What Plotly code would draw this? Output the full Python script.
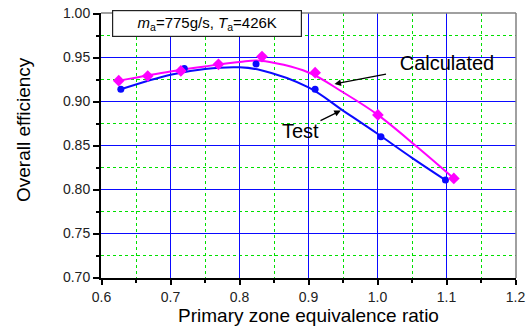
import plotly.graph_objects as go

# Measured points
test_x = [0.628, 0.720, 0.824, 0.9096, 1.005, 1.0985]
test_y = [0.914, 0.9376, 0.9426, 0.914, 0.860, 0.8107]
calc_x = [0.625, 0.667, 0.715, 0.7695, 0.8326, 0.9096, 1.0006, 1.1106]
calc_y = [0.9237, 0.929, 0.9347, 0.9422, 0.951, 0.9328, 0.8848, 0.8126]

# Fitted curves
test_fit_x = [0.628, 0.70, 0.75, 0.80, 0.83, 0.90, 0.95, 1.00, 1.05, 1.0985]
test_fit_y = [0.914, 0.9305, 0.937, 0.9388, 0.9358, 0.916, 0.8897, 0.8633, 0.836, 0.8107]
calc_fit_x = [0.625, 0.70, 0.75, 0.80, 0.83, 0.90, 0.95, 1.00, 1.058, 1.1106]
calc_fit_y = [0.9237, 0.9342, 0.9399, 0.9449, 0.9464, 0.933, 0.9105, 0.8851, 0.848, 0.8126]

x_lo, x_hi = 0.6, 1.2
y_lo, y_hi = 0.70, 1.00

BLUE = "#0a0aff"
MAG = "#ff00ff"
GREEN = "#00e000"
FONT = "Arial, Liberation Sans, sans-serif"

W, H = 526, 336
L, R, T, B = 101, 10, 13, 58
pw, ph = W - L - R, H - T - B
# half-pixel padding so grid lines fall on pixel centres
dx = 0.5 * (x_hi - x_lo) / (pw - 1)
dy = 0.5 * (y_hi - y_lo) / (ph - 1)

fig = go.Figure()
fig.add_trace(go.Scatter(x=test_fit_x, y=test_fit_y, mode="lines", line=dict(color=BLUE, width=2, shape="spline"), showlegend=False, hoverinfo="skip"))
fig.add_trace(go.Scatter(x=calc_fit_x, y=calc_fit_y, mode="lines", line=dict(color=MAG, width=2, shape="spline"), showlegend=False, hoverinfo="skip"))
fig.add_trace(go.Scatter(x=test_x, y=test_y, mode="markers", name="Test", marker=dict(color=BLUE, size=7, symbol="circle"), showlegend=False))
fig.add_trace(go.Scatter(x=calc_x, y=calc_y, mode="markers", name="Calculated", marker=dict(color=MAG, size=9, symbol="diamond"), showlegend=False))

axis_common = dict(
    automargin=False,
    showline=True, linecolor="black", linewidth=2,
    ticks="outside", tickcolor="black", tickwidth=1.5,
    showgrid=True, gridcolor=BLUE, gridwidth=1,
    zeroline=False,
    tickfont=dict(family=FONT, size=14, color="#222"),
)

fig.update_xaxes(
    range=[x_lo - dx, x_hi + dx], tickmode="linear", tick0=0.6, dtick=0.1, tickformat=".1f", ticklen=5,
    minor=dict(tickmode="linear", tick0=0.65, dtick=0.1, showgrid=True, gridcolor=GREEN, griddash="dot", gridwidth=1,
               ticks="outside", ticklen=3, tickcolor="black", tickwidth=1.5),
    title=dict(text="Primary zone equivalence ratio", font=dict(family=FONT, size=19, color="black"), standoff=5),
    **axis_common,
)
fig.update_yaxes(
    range=[y_lo - dy, y_hi + dy], tickmode="linear", tick0=0.7, dtick=0.05, tickformat=".2f", ticklen=6,
    minor=dict(tickmode="linear", tick0=0.725, dtick=0.05, showgrid=True, gridcolor=GREEN, griddash="dot", gridwidth=1,
               ticks="outside", ticklen=3, tickcolor="black", tickwidth=1.5),
    **axis_common,
)

def px_to_paper(px, py):
    return (px - L) / pw, 1 - (py - T) / ph

# frame top/right grey
fig.add_shape(type="line", xref="paper", yref="paper", x0=0, x1=1, y0=1, y1=1, line=dict(color="#808080", width=1.5))
fig.add_shape(type="line", xref="paper", yref="paper", x0=1, x1=1, y0=0, y1=1, line=dict(color="#808080", width=1.5))

annotations = []
# Y title
yx, yy = px_to_paper(23, 130)
annotations.append(dict(text="Overall efficiency", xref="paper", yref="paper", x=yx, y=yy, textangle=-90,
                        showarrow=False, font=dict(family=FONT, size=19, color="black"), xanchor="center", yanchor="middle"))
# condition box
bx, by = px_to_paper(207, 23.5)
annotations.append(dict(text="<i>m</i><sub>a</sub>=775g/s, <i>T</i><sub>a</sub>=426K", xref="paper", yref="paper",
                        x=bx, y=by, showarrow=False, bgcolor="white", bordercolor="#222", borderwidth=1.2, borderpad=2,
                        width=184, height=21, align="center",
                        font=dict(family=FONT, size=15, color="black"), xanchor="center", yanchor="middle"))
# Calculated label with arrow to the calculated curve
annotations.append(dict(text="Calculated", x=0.9377, y=0.920, xref="x", yref="y", showarrow=True, ax=112, ay=-21.3,
                        width=118, arrowhead=2, arrowsize=1, arrowwidth=1.3, arrowcolor="black",
                        font=dict(family=FONT, size=20, color="black")))
# Test label with arrow to the test curve
annotations.append(dict(text="Test", x=0.9468, y=0.8897, xref="x", yref="y", showarrow=True, ax=-40.3, ay=20,
                        arrowhead=2, arrowsize=1, arrowwidth=1.3, arrowcolor="black",
                        font=dict(family=FONT, size=20, color="black")))

fig.update_layout(
    width=W, height=H, margin=dict(l=L, r=R, t=T, b=B),
    paper_bgcolor="white", plot_bgcolor="white",
    font=dict(family=FONT, color="black"),
    annotations=annotations,
    showlegend=False,
)

fig.write_html("out.html", config={"displayModeBar": False},
               post_script="document.body.style.margin='0';document.body.style.overflow='hidden';")
